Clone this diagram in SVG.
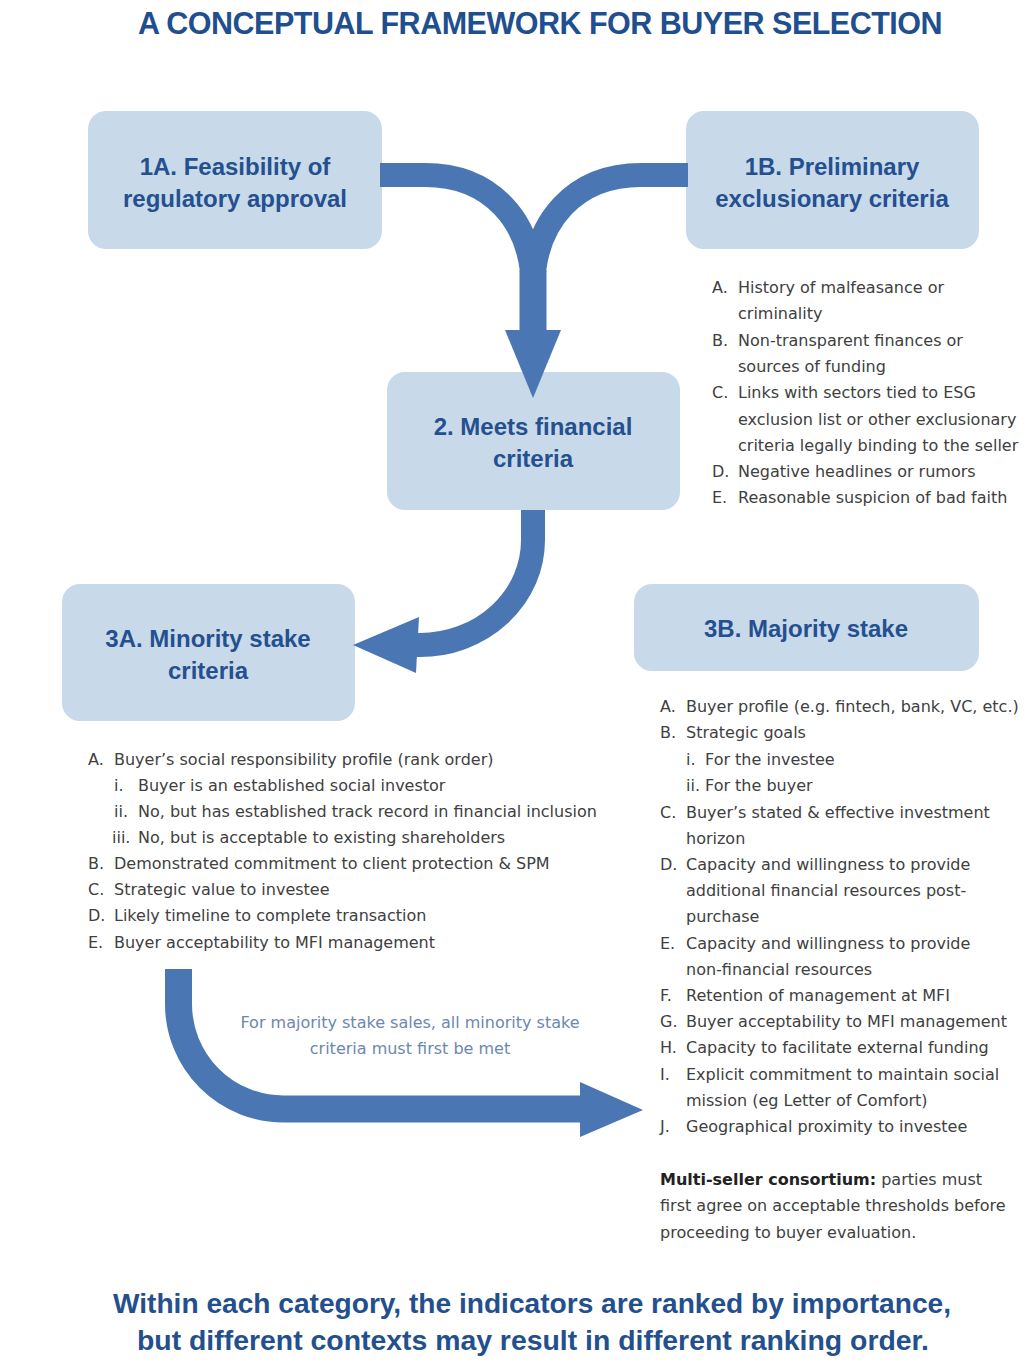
<svg xmlns="http://www.w3.org/2000/svg" width="1032" height="1370" viewBox="0 0 1032 1370">
<defs>
<style>
.bg{fill:#ffffff}
.box{fill:#c8d9ea}
.hd{font-family:"Liberation Sans",Arial,sans-serif;font-weight:bold;font-size:24px;fill:#24508f;text-anchor:middle}
.title{font-family:"Liberation Sans",Arial,sans-serif;font-weight:bold;font-size:30.5px;letter-spacing:-0.5px;fill:#1f4f8f;text-anchor:middle}
.foot{font-family:"Liberation Sans",Arial,sans-serif;font-weight:bold;font-size:28px;fill:#23508d;text-anchor:middle}
.li{font-family:"DejaVu Sans",sans-serif;font-size:16px;fill:#404040}
.note{font-family:"DejaVu Sans",sans-serif;font-size:16px;fill:#6d87b0;text-anchor:middle}
.band{fill:none;stroke:#4a77b3;stroke-linecap:butt}
.head{fill:#4a77b3}
</style>
</defs>
<rect class="bg" x="0" y="0" width="1032" height="1370"/>
<text class="title" x="540" y="34">A CONCEPTUAL FRAMEWORK FOR BUYER SELECTION</text>

<g id="n1a">
<rect class="box" x="88" y="111" width="294" height="138" rx="18"/>
<text class="hd" x="235" y="175">1A. Feasibility of</text>
<text class="hd" x="235" y="207">regulatory approval</text>
</g>
<g id="n1b">
<rect class="box" x="686" y="111" width="293" height="138" rx="18"/>
<text class="hd" x="832" y="175">1B. Preliminary</text>
<text class="hd" x="832" y="207">exclusionary criteria</text>
</g>
<g id="n2">
<rect class="box" x="387" y="372" width="293" height="138" rx="18"/>
<text class="hd" x="533" y="435">2. Meets financial</text>
<text class="hd" x="533" y="467">criteria</text>
</g>
<g id="n3a">
<rect class="box" x="62" y="584" width="293" height="137" rx="18"/>
<text class="hd" x="208" y="647">3A. Minority stake</text>
<text class="hd" x="208" y="679">criteria</text>
</g>
<g id="n3b">
<rect class="box" x="634" y="584" width="345" height="87" rx="18"/>
<text class="hd" x="806" y="637">3B. Majority stake</text>
</g>

<g id="connectors">
<path class="band" stroke-width="24" d="M380 175 L425 175 C490 175 533 220 533 290"/>
<path class="band" stroke-width="24" d="M688 175 L641 175 C576 175 533 220 533 290"/>
<path class="band" stroke-width="27" d="M533 270 L533 334"/>
<polygon class="head" points="505,330 561,330 533,398"/>
<path class="band" stroke-width="24" d="M533 510 L533 540 A113 105 0 0 1 420 645 L410 645"/>
<polygon class="head" points="353,645 419,617 416,673"/>
<path class="band" stroke-width="27" d="M178.5 969 L178.5 1004 A105 105 0 0 0 283.5 1109 L582 1109"/>
<polygon class="head" points="580,1082 580,1137 643,1110"/>
</g>

<g id="list-1b">
<text class="li" x="712" y="293">A.</text><text class="li" x="738" y="293">History of malfeasance or</text>
<text class="li" x="738" y="319">criminality</text>
<text class="li" x="712" y="346">B.</text><text class="li" x="738" y="346">Non-transparent finances or</text>
<text class="li" x="738" y="372">sources of funding</text>
<text class="li" x="712" y="398">C.</text><text class="li" x="738" y="398">Links with sectors tied to ESG</text>
<text class="li" x="738" y="425">exclusion list or other exclusionary</text>
<text class="li" x="738" y="451">criteria legally binding to the seller</text>
<text class="li" x="712" y="477">D.</text><text class="li" x="738" y="477">Negative headlines or rumors</text>
<text class="li" x="712" y="503">E.</text><text class="li" x="738" y="503">Reasonable suspicion of bad faith</text>
</g>

<g id="list-3a">
<text class="li" x="88" y="765">A.</text><text class="li" x="114" y="765">Buyer’s social responsibility profile (rank order)</text>
<text class="li" x="114" y="791">i.</text><text class="li" x="138" y="791">Buyer is an established social investor</text>
<text class="li" x="114" y="817">ii.</text><text class="li" x="138" y="817">No, but has established track record in financial inclusion</text>
<text class="li" x="112" y="843">iii.</text><text class="li" x="138" y="843">No, but is acceptable to existing shareholders</text>
<text class="li" x="88" y="869">B.</text><text class="li" x="114" y="869">Demonstrated commitment to client protection &amp; SPM</text>
<text class="li" x="88" y="895">C.</text><text class="li" x="114" y="895">Strategic value to investee</text>
<text class="li" x="88" y="921">D.</text><text class="li" x="114" y="921">Likely timeline to complete transaction</text>
<text class="li" x="88" y="948">E.</text><text class="li" x="114" y="948">Buyer acceptability to MFI management</text>
</g>

<g id="list-3b">
<text class="li" x="660" y="712">A.</text><text class="li" x="686" y="712">Buyer profile (e.g. fintech, bank, VC, etc.)</text>
<text class="li" x="660" y="738">B.</text><text class="li" x="686" y="738">Strategic goals</text>
<text class="li" x="686" y="765">i.</text><text class="li" x="705" y="765">For the investee</text>
<text class="li" x="686" y="791">ii.</text><text class="li" x="705" y="791">For the buyer</text>
<text class="li" x="660" y="818">C.</text><text class="li" x="686" y="818">Buyer’s stated &amp; effective investment</text>
<text class="li" x="686" y="844">horizon</text>
<text class="li" x="660" y="870">D.</text><text class="li" x="686" y="870">Capacity and willingness to provide</text>
<text class="li" x="686" y="896">additional financial resources post-</text>
<text class="li" x="686" y="922">purchase</text>
<text class="li" x="660" y="949">E.</text><text class="li" x="686" y="949">Capacity and willingness to provide</text>
<text class="li" x="686" y="975">non-financial resources</text>
<text class="li" x="660" y="1001">F.</text><text class="li" x="686" y="1001">Retention of management at MFI</text>
<text class="li" x="660" y="1027">G.</text><text class="li" x="686" y="1027">Buyer acceptability to MFI management</text>
<text class="li" x="660" y="1053">H.</text><text class="li" x="686" y="1053">Capacity to facilitate external funding</text>
<text class="li" x="660" y="1080">I.</text><text class="li" x="686" y="1080">Explicit commitment to maintain social</text>
<text class="li" x="686" y="1106">mission (eg Letter of Comfort)</text>
<text class="li" x="660" y="1132">J.</text><text class="li" x="686" y="1132">Geographical proximity to investee</text>
<text class="li" x="660" y="1185"><tspan font-weight="bold" fill="#222">Multi-seller consortium:</tspan> parties must</text>
<text class="li" x="660" y="1211">first agree on acceptable thresholds before</text>
<text class="li" x="660" y="1238">proceeding to buyer evaluation.</text>
</g>

<g id="note">
<text class="note" x="410" y="1028">For majority stake sales, all minority stake</text>
<text class="note" x="410" y="1054">criteria must first be met</text>
</g>

<text class="foot" x="532" y="1313" textLength="838" lengthAdjust="spacingAndGlyphs">Within each category, the indicators are ranked by importance,</text>
<text class="foot" x="533" y="1350" textLength="792" lengthAdjust="spacingAndGlyphs">but different contexts may result in different ranking order.</text>
</svg>
